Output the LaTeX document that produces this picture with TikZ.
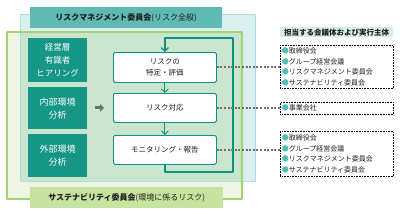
\documentclass[tikz,border=0pt]{standalone}
\usepackage{fontspec}
\setmainfont{Noto Sans CJK JP}
\usetikzlibrary{arrows.meta,calc,positioning}

\definecolor{hdrteal}{RGB}{94,186,178}
\definecolor{cyanbg}{RGB}{218,240,240}
\definecolor{cyanline}{RGB}{172,222,219}
\definecolor{greenbg}{RGB}{238,245,226}
\definecolor{greenline}{RGB}{165,210,112}
\definecolor{overlap}{RGB}{201,229,206}
\definecolor{boxteal}{RGB}{22,150,134}
\definecolor{loopteal}{RGB}{10,145,128}
\definecolor{labgreen}{RGB}{198,228,160}
\definecolor{ownerbg}{RGB}{212,238,235}
\definecolor{bullet}{RGB}{82,190,180}
\definecolor{dotgray}{RGB}{110,110,110}
\definecolor{ink}{RGB}{30,30,30}

\newcommand{\bul}{\textcolor{bullet}{●}}

\begin{document}
\begin{tikzpicture}[x=1pt, y=-1pt, line join=round,
    leftbox/.style={anchor=north west, fill=boxteal, text=white, minimum width=59pt,
      inner sep=0pt, align=center, font=\fontsize{8.5}{13}\selectfont},
    stepbox/.style={anchor=north west, draw=loopteal, fill=white, line width=0.8pt,
      rounded corners=1.5pt, minimum width=103pt, inner sep=0pt, align=center,
      text=ink, font=\fontsize{7.5}{11}\selectfont},
    listbox/.style={anchor=north west, draw=black, densely dotted, line width=0.6pt,
      minimum width=113pt, text width=110pt, inner xsep=1.2pt, inner ysep=0pt,
      align=left, text=ink, font=\fontsize{7}{10.5}\selectfont},
    title/.style={anchor=north west, inner sep=0pt, text=ink, font=\fontsize{8}{10}\selectfont},
    flow/.style={draw=loopteal, line width=1.3pt, -{Straight Barb[length=3.5pt,width=7pt]}},
    dotline/.style={draw=dotgray, line width=2pt, dash pattern=on 2pt off 1.6pt}]
  \useasboundingbox (0,0) rectangle (400,214);

  % Risk management area and sustainability area.
  \fill[cyanbg] (20,14) rectangle (255,181);
  \fill[greenbg] (7,32) rectangle (242,199);
  \fill[overlap] (20,32) rectangle (242,181);
  \draw[cyanline, line width=0.8pt] (20,14) rectangle (255,181);
  \draw[greenline, line width=1.2pt] (7,32) rectangle (242,199);

  % Committee headings.
  \node[title, fill=hdrteal, minimum width=192pt, minimum height=21pt] (rmc) at (30,7)
    {\bfseries リスクマネジメント委員会\mdseries (リスク全般)};
  \node[title, fill=labgreen, minimum width=193pt, minimum height=21pt] (susc) at (30,187)
    {\bfseries サステナビリティ委員会\mdseries (環境に係るリスク)};

  % Inputs.
  \node[leftbox, minimum height=44pt] (hear) at (28,38) {経営層\\有識者\\ヒアリング};
  \node[leftbox, minimum height=42pt, font=\fontsize{9}{13}\selectfont] (intern) at (28,87) {内部環境\\分析};
  \node[leftbox, minimum height=43pt, font=\fontsize{9}{13}\selectfont] (extern) at (28,134) {外部環境\\分析};

  % Process steps.
  \node[stepbox, minimum height=30pt] (ident) at (113,52) {リスクの\\特定・評価};
  \node[stepbox, minimum height=29pt] (resp) at (113,93) {リスク対応};
  \node[stepbox, minimum height=29pt] (mon) at (113,135) {モニタリング・報告};

  \draw[draw=dotgray, line width=3pt, shorten <=8pt, shorten >=9pt,
    -{Triangle[length=4pt,width=7.5pt]}] (intern.east |- resp.west) -- (resp.west);

  \draw[flow, line width=0.9pt] (ident.south) -- (resp.north);
  \draw[flow, line width=0.9pt] (resp.south) -- (mon.north);
  % Feedback loop.
  \draw[flow] (mon.south) |- (233,172) |- ($(ident.north)+(0,-14)$) -- (ident.north);

  % Responsible bodies.
  \node[title, fill=ownerbg, minimum width=113pt, minimum height=10pt,
    font=\fontsize{7.5}{9}\selectfont\bfseries] (owner) at (280,27) {担当する会議体および実行主体};
  \node[listbox, minimum height=43pt] (list1) at (280,45)
    {\bul 取締役会\\\bul グループ経営会議\\\bul リスクマネジメント委員会\\\bul サステナビリティ委員会};
  \node[listbox, minimum height=12pt] (list2) at (280,102) {\bul 事業会社};
  \node[listbox, minimum height=45pt] (list3) at (280,131)
    {\bul 取締役会\\\bul グループ経営会議\\\bul リスクマネジメント委員会\\\bul サステナビリティ委員会};

  \draw[dotline] (ident.east) -- (ident.east -| list1.west);
  \draw[dotline] (resp.east) -- (resp.east -| list2.west);
  \draw[dotline] (mon.east) -- (mon.east -| list3.west);
\end{tikzpicture}
\end{document}
